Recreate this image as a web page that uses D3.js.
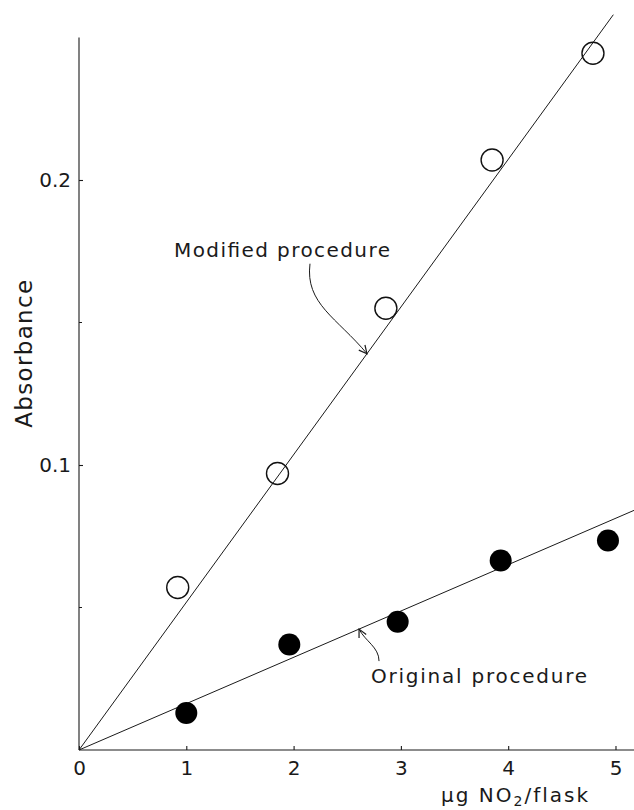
<!DOCTYPE html>
<html>
<head>
<meta charset="utf-8">
<script src="https://cdn.jsdelivr.net/npm/d3@7"></script>
<style>
  body { margin: 0; background: #fff; }
  svg text { font-family: "DejaVu Sans", sans-serif; fill: #1a1a1a; }
</style>
</head>
<body>
<div class="chart-wrapper"></div>
<script>
// values
const modifiedX = [0.92, 1.85, 2.86, 3.85, 4.79];
const modifiedY = [0.057, 0.097, 0.155, 0.207, 0.2445];
const originalX = [1.0, 1.96, 2.97, 3.93, 4.93];
const originalY = [0.013, 0.037, 0.045, 0.0665, 0.0735];

// straight lines through the origin, as drawn
const modifiedFit = [[0, 0], [4.98, 0.258]];
const originalFit = [[0, 0], [5.18, 0.0842]];

const xTicks = [0, 1, 2, 3, 4, 5];
const yTicks = [0.1, 0.2];
const yMinorTicks = [0.05, 0.15];

const width = 634;
const height = 810;

let x = d3.scaleLinear().domain([0, 5.18]).range([79, 634.8]);
let y = d3.scaleLinear().domain([0, 0.25]).range([750, 37.5]);

let svg = d3.select('.chart-wrapper').append('svg')
.attr('width', width)
.attr('height', height)

svg.append('defs').append('marker')
.attr('id', 'arrow')
.attr('viewBox', '-10 -6 12 12')
.attr('refX', 0)
.attr('refY', 0)
.attr('markerWidth', 12)
.attr('markerHeight', 12)
.attr('markerUnits', 'userSpaceOnUse')
.attr('orient', 'auto')
.append('path')
.attr('d', 'M-8,-4 L0,0 L-8,4')
.attr('fill', 'none')
.attr('stroke', '#1a1a1a')
.attr('stroke-width', 1.2)

// axes
let xAxis = svg.append('g')
.attr('transform', `translate(0,${y(0)})`)
.call(d3.axisBottom(x).tickValues(xTicks).tickSize(-4).tickPadding(7).tickFormat(d3.format('d')))

xAxis.select('.domain').attr('d', `M${x(0)},0H${width}`)

let yAxis = svg.append('g')
.attr('transform', `translate(${x(0)},0)`)
.call(d3.axisLeft(y).tickValues(yTicks).tickSize(-4).tickPadding(8).tickFormat(d3.format('.1f')))

yAxis.select('.domain').attr('d', `M0,${y(0.25)}V${y(0)}`)

svg.append('g')
.selectAll('line')
.data(yMinorTicks)
.enter()
.append('line')
.attr('x1', x(0))
.attr('x2', x(0) + 3)
.attr('y1', d => y(d))
.attr('y2', d => y(d))
.attr('stroke', '#1a1a1a')

svg.selectAll('.domain, .tick line')
.attr('stroke', '#1a1a1a')
.attr('stroke-width', 1.1)

svg.selectAll('.tick text')
.style('font-size', '20px')
.attr('fill', '#1a1a1a')

xAxis.selectAll('.tick text').attr('dy', '0.9em')

svg.append('text')
.attr('transform', `translate(32,${y(0.139)}) rotate(-90)`)
.attr('text-anchor', 'middle')
.attr('textLength', 148)
.style('font-size', '23px')
.text('Absorbance')

let xLabel = svg.append('text')
.attr('x', 441)
.attr('y', 802)
.style('font-size', '20px')
.style('letter-spacing', '2px')

xLabel.append('tspan').text('\u00b5g NO')
xLabel.append('tspan').attr('dy', 4).style('font-size', '14px').text('2')
xLabel.append('tspan').attr('dy', -4).text('/flask')

// fitted lines
let line = d3.line().x(d => x(d[0])).y(d => y(d[1]))

svg.append('g')
.selectAll('path')
.data([modifiedFit, originalFit])
.enter()
.append('path')
.attr('d', line)
.attr('fill', 'none')
.attr('stroke', '#1a1a1a')
.attr('stroke-width', 1)

// points
svg.append('g')
.selectAll('circle')
.data(modifiedX)
.enter()
.append('circle')
.attr('cx', d => x(d))
.attr('cy', (d, i) => y(modifiedY[i]))
.attr('r', 11)
.attr('fill', 'none')
.attr('stroke', '#111')
.attr('stroke-width', 1.4)

svg.append('g')
.selectAll('circle')
.data(originalX)
.enter()
.append('circle')
.attr('cx', d => x(d))
.attr('cy', (d, i) => y(originalY[i]))
.attr('r', 11)
.attr('fill', '#000')

// annotations, anchored where the arrow meets each line
const pointOn = (fit, v) => [x(v), y(v * fit[1][1] / fit[1][0])];

let mAnchor = pointOn(modifiedFit, 2.684);
svg.append('path')
.attr('d', `M${mAnchor[0] - 57},${mAnchor[1] - 90} C${mAnchor[0] - 62},${mAnchor[1] - 50} ${mAnchor[0] - 30},${mAnchor[1] - 36} ${mAnchor[0]},${mAnchor[1]}`)
.attr('fill', 'none')
.attr('stroke', '#1a1a1a')
.attr('stroke-width', 1)
.attr('marker-end', 'url(#arrow)')

svg.append('text')
.attr('x', mAnchor[0] - 193)
.attr('y', mAnchor[1] - 97)
.attr('textLength', 216)
.style('font-size', '20px')
.text('Modified procedure')

let oAnchor = pointOn(originalFit, 2.61);
svg.append('path')
.attr('d', `M${oAnchor[0] + 20},${oAnchor[1] + 32} C${oAnchor[0] + 20},${oAnchor[1] + 18} ${oAnchor[0] + 6},${oAnchor[1] + 12} ${oAnchor[0]},${oAnchor[1]}`)
.attr('fill', 'none')
.attr('stroke', '#1a1a1a')
.attr('stroke-width', 1)
.attr('marker-end', 'url(#arrow)')

svg.append('text')
.attr('x', oAnchor[0] + 12)
.attr('y', oAnchor[1] + 54)
.attr('textLength', 216)
.style('font-size', '20px')
.text('Original procedure')
</script>
</body>
</html>
